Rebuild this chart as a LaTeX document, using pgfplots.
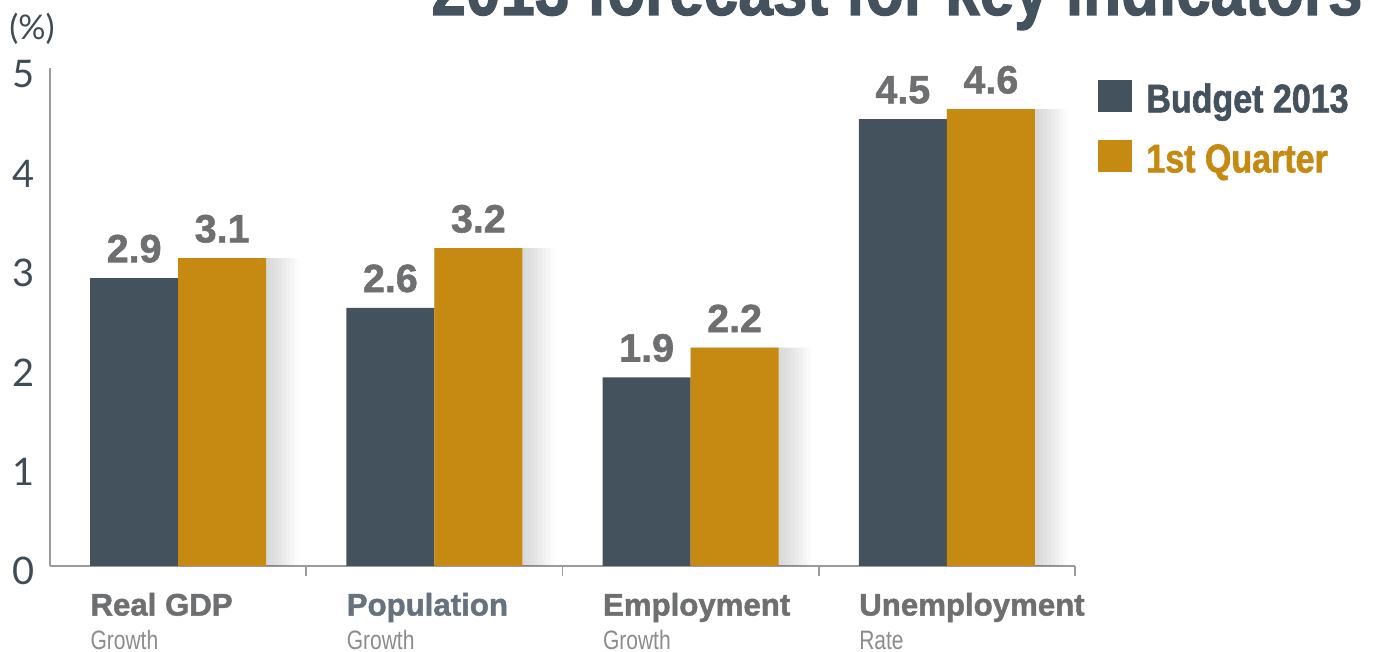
\documentclass[border=0pt]{standalone}
\usepackage{pgfplots}
\pgfplotsset{compat=1.18}
\usepackage{fontspec}
\setmainfont{Lato}
\newfontfamily\condb[FakeStretch=0.85]{Liberation Sans}
\newfontface\heavy{Liberation Sans Bold}[FakeBold=1.5]
\newfontface\heavyc{Liberation Sans Bold}[FakeBold=1.5, FakeStretch=0.85]
\newfontfamily\condl[FakeStretch=0.79]{Liberation Sans}
\definecolor{slate}{HTML}{44525D}
\definecolor{gold}{HTML}{C68A13}
\definecolor{lblgray}{HTML}{6E6F71}
\definecolor{popblue}{HTML}{66737E}
\definecolor{axgray}{HTML}{9B9B9B}
\definecolor{ticktext}{HTML}{3F4B56}
\definecolor{subgray}{HTML}{8C8C8C}
\begin{document}
\begin{tikzpicture}
\begin{axis}[
  scale only axis, width=512.5pt, height=249pt,
  xmin=-0.5, xmax=3.5, ymin=0, ymax=5.015,
  axis x line*=bottom, axis y line*=left,
  axis line style={axgray, line width=0.8pt, -},
  tick align=inside,
  ytick={0,1,2,3,4,5},
  ytick style={draw=none},
  /pgf/number format/assume math mode=true,
  yticklabel style={font=\fontsize{19}{19}\selectfont, text=ticktext, inner sep=0pt, anchor=east, xshift=-7.5pt, yshift=-2.5pt},
  xtick={0,1,2,3},
  major x tick style={draw=none},
  minor xtick={0.5,1.5,2.5,3.5},
  minor tick length=5pt,
  minor x tick style={axgray, line width=0.8pt},
  xticklabels={
    {\color{lblgray}\heavy Real GDP\\{\color{subgray}\condl\fontsize{13.3}{13.3}\selectfont Growth}},
    {\color{popblue}\heavy Population\\{\color{subgray}\condl\fontsize{13.3}{13.3}\selectfont Growth}},
    {\color{lblgray}\heavy Employment\\{\color{subgray}\condl\fontsize{13.3}{13.3}\selectfont Growth}},
    {\color{lblgray}\heavy Unemployment\\{\color{subgray}\condl\fontsize{13.3}{13.3}\selectfont Rate}}
  },
  xticklabel style={font=\fontsize{15.6}{16.8}\selectfont, anchor=north west, align=left, inner sep=0pt, xshift=-44pt, yshift=-9pt},
  ybar=0pt, bar width=44pt,
  clip=false,
  legend style={at={(axis description cs:1,1)}, anchor=north west, xshift=11.5pt, yshift=-6pt,
    draw=none, fill=none, inner sep=0pt, row sep=10pt, column sep=7pt,
    font=\heavyc\fontsize{20}{20}\selectfont,
    nodes={inner sep=0pt, text height=16pt, text depth=4pt, anchor=base west}},
  legend cell align=left,
  legend image code/.code={\fill[#1] (0pt,0pt) rectangle (17pt,16pt);},
  valuelbl/.style={nodes near coords={\pgfmathprintnumber[fixed,precision=1,fixed zerofill]{\pgfplotspointmeta}},
    nodes near coords style={font=\heavy\fontsize{19.7}{19.7}\selectfont, text=lblgray, inner sep=0pt, anchor=south, yshift=7.5pt}},
  shadowbar/.style={forget plot, fill=black, fill opacity=0.018, draw=none},
]
% soft shadow to the right of the gold bars (fine layers)
\addplot[shadowbar, bar shift=23pt, bar width=46pt] coordinates {(0,3.1) (1,3.2) (2,2.2) (3,4.6)};
\addplot[shadowbar, bar shift=24pt, bar width=48pt] coordinates {(0,3.1) (1,3.2) (2,2.2) (3,4.6)};
\addplot[shadowbar, bar shift=25pt, bar width=50pt] coordinates {(0,3.1) (1,3.2) (2,2.2) (3,4.6)};
\addplot[shadowbar, bar shift=26pt, bar width=52pt] coordinates {(0,3.1) (1,3.2) (2,2.2) (3,4.6)};
\addplot[shadowbar, bar shift=27pt, bar width=54pt] coordinates {(0,3.1) (1,3.2) (2,2.2) (3,4.6)};
\addplot[shadowbar, bar shift=28pt, bar width=56pt] coordinates {(0,3.1) (1,3.2) (2,2.2) (3,4.6)};
\addplot[shadowbar, bar shift=29pt, bar width=58pt] coordinates {(0,3.1) (1,3.2) (2,2.2) (3,4.6)};
\addplot[shadowbar, bar shift=30pt, bar width=60pt] coordinates {(0,3.1) (1,3.2) (2,2.2) (3,4.6)};
\addplot[fill=slate, draw=none, bar shift=-22pt, valuelbl]
  coordinates {(0,2.9) (1,2.6) (2,1.9) (3,4.5)};
\addplot[fill=gold, draw=none, bar shift=22pt, valuelbl]
  coordinates {(0,3.1) (1,3.2) (2,2.2) (3,4.6)};
\legend{\textcolor{slate}{Budget 2013}, \textcolor{gold}{1st Quarter}}
\end{axis}
\node[anchor=center, text=ticktext, font=\fontsize{17}{17}\selectfont] at (-9pt,268.5pt) {(\%)};
\node[anchor=base, text=slate, font=\heavyc\fontsize{36.5}{36.5}\selectfont] at (423.5pt,275.5pt) {2013 forecast for key indicators};
\pgfresetboundingbox
\useasboundingbox (-25pt,-43pt) rectangle (669pt,283pt);
\end{tikzpicture}
\end{document}
